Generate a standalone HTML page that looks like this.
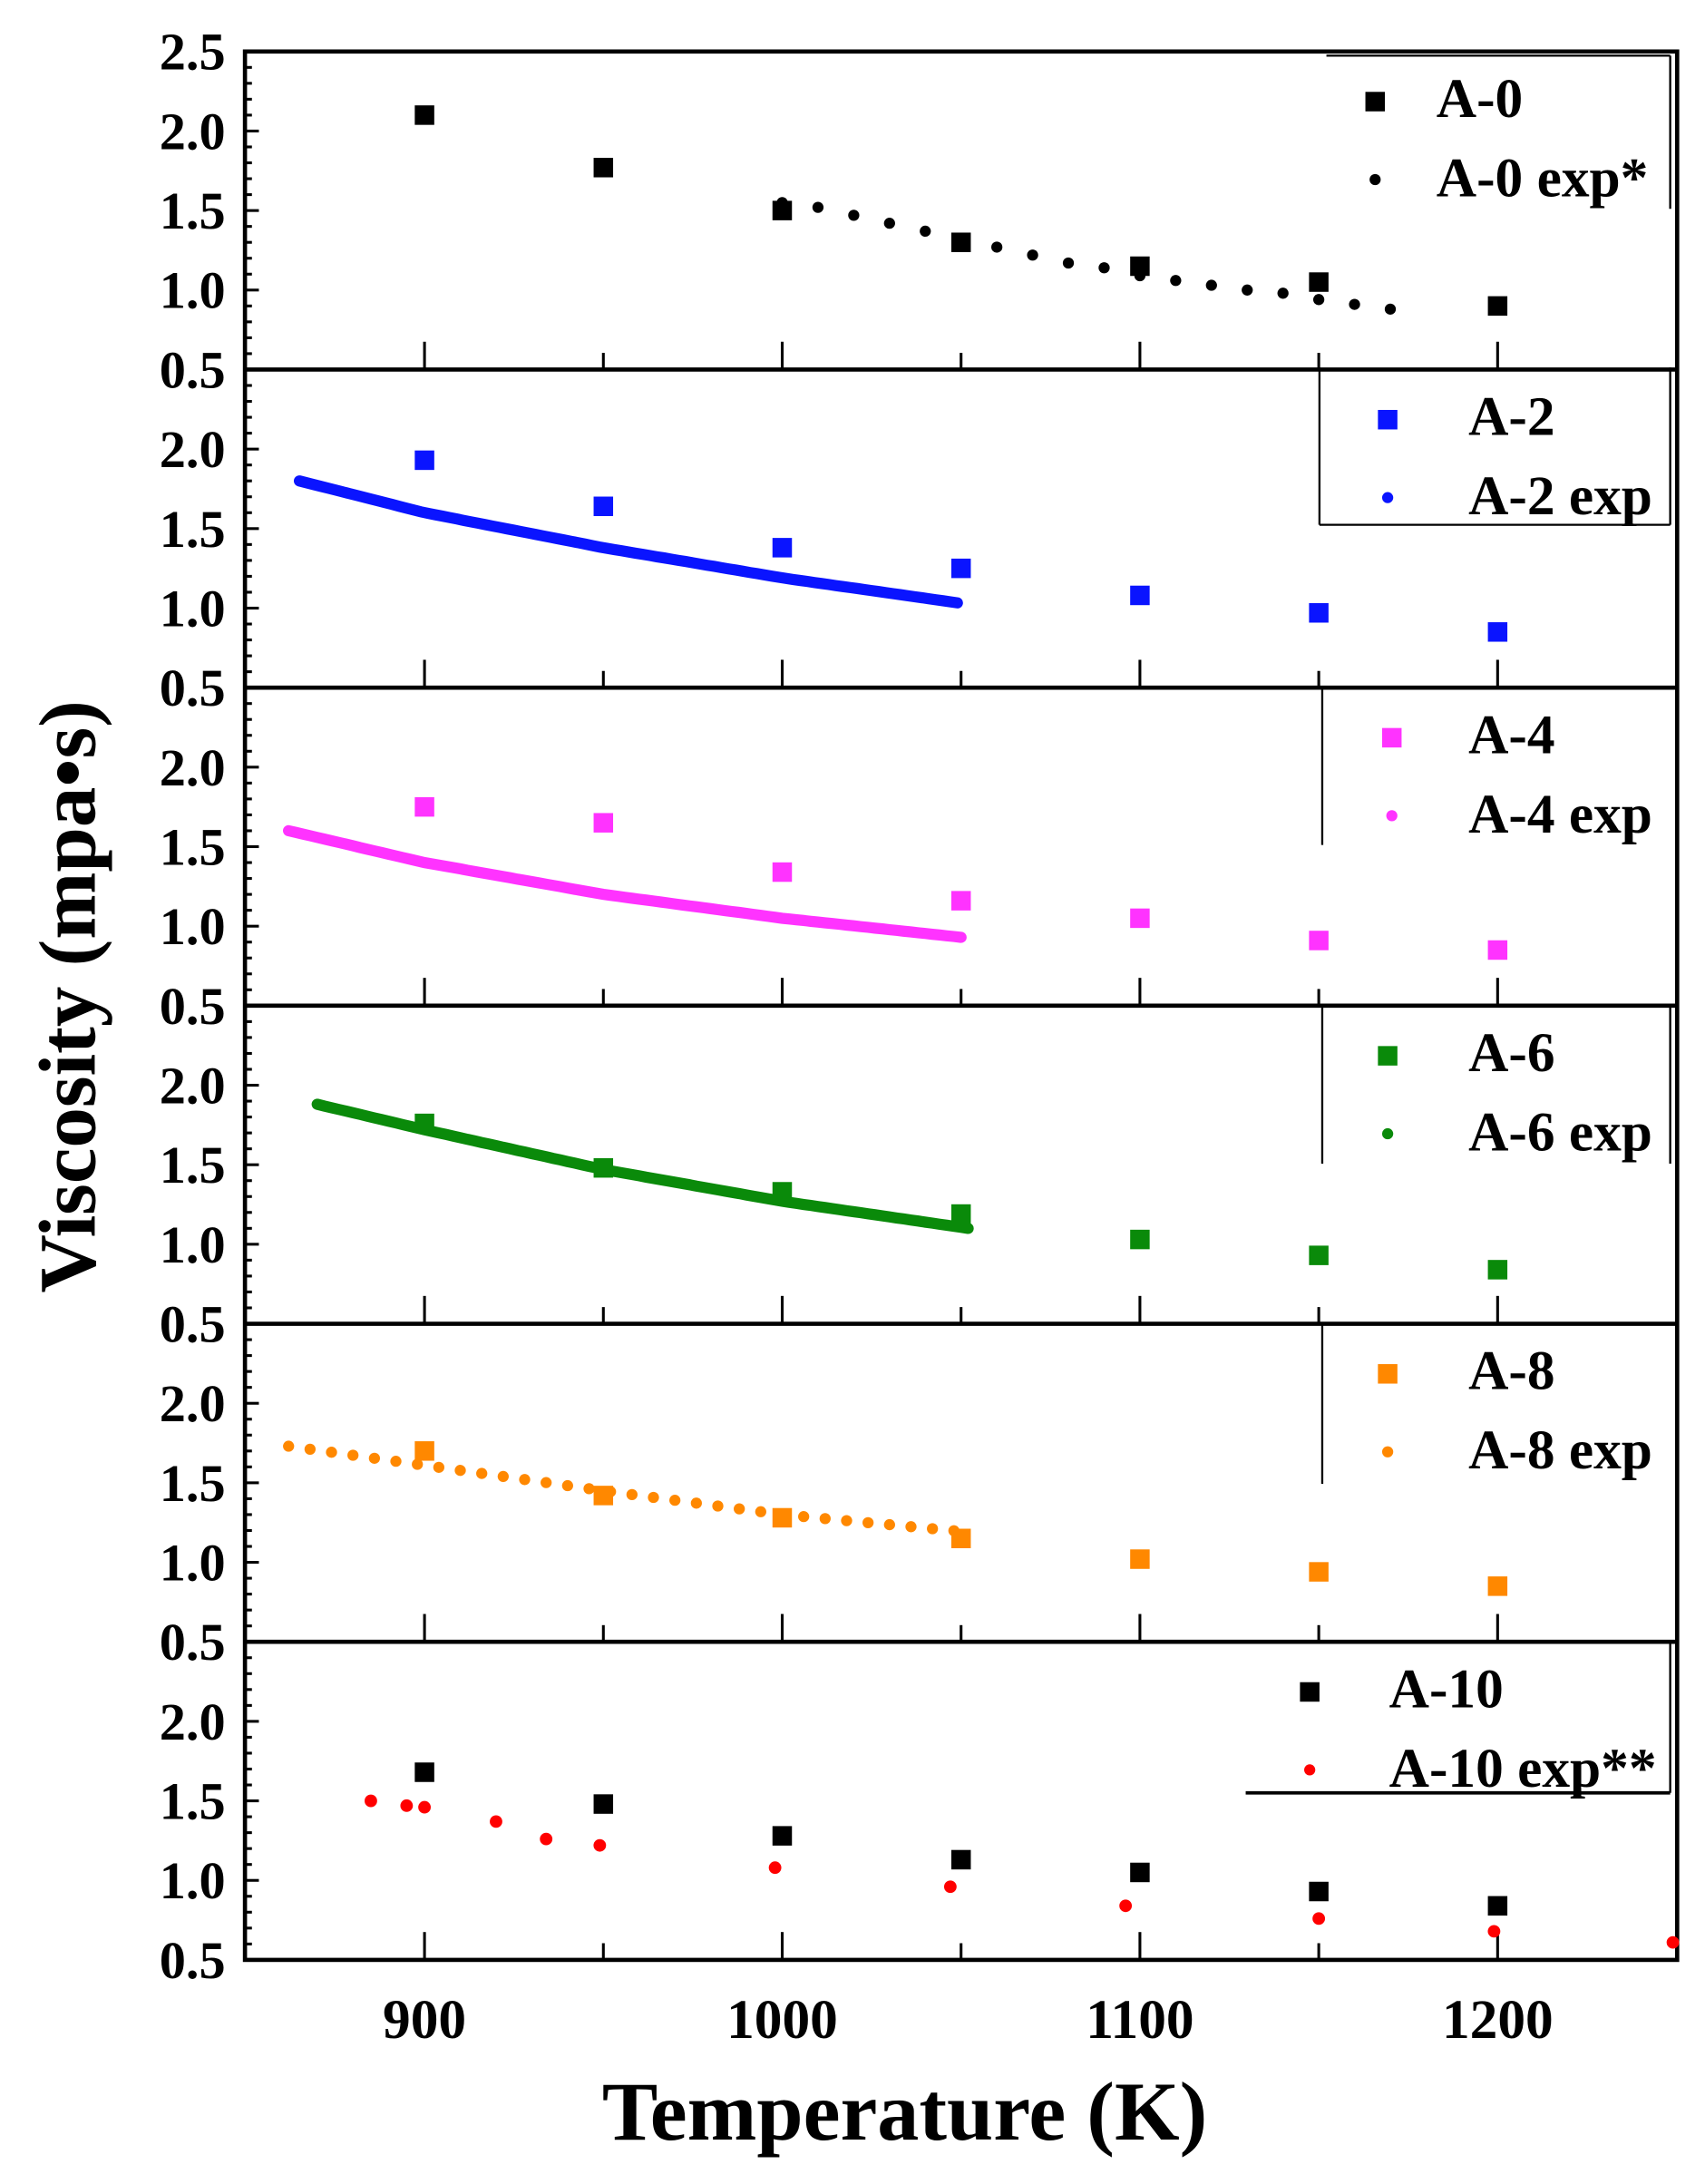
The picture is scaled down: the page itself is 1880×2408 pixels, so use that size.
<!DOCTYPE html>
<html><head><meta charset="utf-8"><style>
html,body{margin:0;padding:0;background:#fff;}
svg{display:block;}
text{font-family:"Liberation Serif",serif;font-weight:bold;}
</style></head><body>
<svg id="s" width="1880" height="2408" viewBox="0 0 1225 1569" preserveAspectRatio="none" xmlns="http://www.w3.org/2000/svg"></svg>
<script>
const s=document.getElementById('s');
let h='';
const L=176,R=1205,T0=37,PH=228.5;
const X=t=>305+(t-900)*2.57;
const Y=(i,v)=>T0+PH*i+(2.5-v)/2*PH;
h+=`<rect x="${L}" y="${T0}" width="${R-L}" height="${PH*6}" fill="none" stroke="#000" stroke-width="3"/>`;
for(let i=1;i<6;i++)h+=`<line x1="${L}" x2="${R}" y1="${T0+PH*i}" y2="${T0+PH*i}" stroke="#000" stroke-width="3"/>`;
for(let i=0;i<6;i++){
  const b=T0+PH*(i+1);
  for(let t=900;t<=1200;t+=50){h+=`<line x1="${X(t)}" x2="${X(t)}" y1="${b}" y2="${b-(t%100==0?20:12)}" stroke="#000" stroke-width="2"/>`;}
  for(let k=0;k<=20;k++){const v=0.5+k*0.1;const y=Y(i,v);const maj=k%5==0;h+=`<line x1="${L}" x2="${L+(maj?10:5)}" y1="${y}" y2="${y}" stroke="#000" stroke-width="2"/>`;}
  const labs=i==0?['2.5','2.0','1.5','1.0','0.5']:['2.0','1.5','1.0','0.5'];
  labs.forEach(l=>{h+=`<text x="162" y="${Y(i,+l)+13}" font-size="38" text-anchor="end">${l}</text>`;});
}
[900,1000,1100,1200].forEach(t=>{h+=`<text x="${X(t)}" y="1464" font-size="40" text-anchor="middle">${t}</text>`;});
h+=`<text x="650" y="1537" font-size="60" text-anchor="middle">Temperature (K)</text>`;
h+=`<text transform="translate(68,716) rotate(-90)" font-size="58" text-anchor="middle">Viscosity (mpa•s)</text>`;
const sqV=[[2.1,1.77,1.5,1.3,1.15,1.05,0.9],[1.93,1.64,1.38,1.25,1.08,0.97,0.85],[1.75,1.65,1.34,1.16,1.05,0.91,0.85],[1.76,1.48,1.33,1.19,1.03,0.93,0.84],[1.7,1.42,1.28,1.15,1.02,0.94,0.85],[1.68,1.48,1.28,1.13,1.05,0.93,0.84]];
const cols=['#000','#0a14ff','#ff33ff','#0a8a0a','#ff8800','#000'];
const sq=(x,y,c)=>`<rect x="${x-7}" y="${y-7}" width="14" height="14" fill="${c}"/>`;
const dot=(x,y,c,r)=>`<circle cx="${x}" cy="${y}" r="${r}" fill="${c}"/>`;
function interp(pts,t){for(let k=0;k<pts.length-1;k++){if(t<=pts[k+1][0]){const f=(t-pts[k][0])/(pts[k+1][0]-pts[k][0]);return pts[k][1]+f*(pts[k+1][1]-pts[k][1]);}}return pts[pts.length-1][1];}
const curves={1:[[865,1.8],[900,1.6],[950,1.38],[1000,1.19],[1050,1.03]],2:[[862,1.6],[900,1.4],[950,1.2],[1000,1.05],[1050,0.93]],3:[[870,1.88],[900,1.72],[950,1.47],[1000,1.27],[1052,1.1]]};
for(const i in curves){const p=curves[i];let d='';for(let t=p[0][0];t<=p[p.length-1][0];t+=2){d+=(d?'L':'M')+X(t).toFixed(1)+' '+Y(+i,interp(p,t)).toFixed(1);}h+=`<path d="${d}" fill="none" stroke="${cols[i]}" stroke-width="8" stroke-linecap="round"/>`;}
{const p=[[862,1.73],[900,1.61],[950,1.45],[1000,1.3],[1052,1.19]];for(let t=862;t<=1052;t+=6)h+=dot(X(t),Y(4,interp(p,t)),cols[4],4);}
[[1000,1.55],[1010,1.52],[1020,1.47],[1030,1.42],[1040,1.37],[1050,1.32],[1060,1.27],[1070,1.22],[1080,1.17],[1090,1.14],[1100,1.09],[1110,1.06],[1120,1.03],[1130,1.0],[1140,0.98],[1150,0.94],[1160,0.91],[1170,0.88]].forEach(p=>h+=dot(X(p[0]),Y(0,p[1]),'#000',4));
sqV.forEach((a,i)=>a.forEach((v,k)=>h+=sq(X(900+50*k),Y(i,v),cols[i])));
[[885,1.5],[895,1.47],[900,1.46],[920,1.37],[934,1.26],[949,1.22],[998,1.08],[1047,0.96],[1096,0.84],[1150,0.76],[1199,0.68],[1249,0.61]].forEach(p=>h+=dot(X(p[0]),Y(5,p[1]),'#f00',4.5));
const lg=[[988,1032,'A-0','A-0 exp*'],[997,1055,'A-2','A-2 exp'],[1000,1055,'A-4','A-4 exp'],[997,1055,'A-6','A-6 exp'],[997,1055,'A-8','A-8 exp'],[941,998,'A-10','A-10 exp**']];
lg.forEach((g,i)=>{const t=T0+PH*i;h+=sq(g[0],t+36,cols[i==5?0:i]);h+=dot(g[0],t+92,i==5?'#f00':cols[i],4);h+=`<text x="${g[1]}" y="${t+47}" font-size="40">${g[2]}</text><text x="${g[1]}" y="${t+104}" font-size="40">${g[3]}</text>`;});
const ln=(a,b,c,d,w)=>h+=`<line x1="${a}" y1="${b}" x2="${c}" y2="${d}" stroke="#000" stroke-width="${w||1.5}"/>`;
ln(953,40,1200,40);ln(1200,40,1200,150);
ln(948,264,948,377);ln(948,377,1200,377);ln(1200,264,1200,377);
ln(950,493,950,607);
ln(950,722,950,836);ln(1200,722,1200,836);
ln(950,950,950,1066);
ln(895,1288,1200,1288,2.5);ln(1200,1179,1200,1288);
s.innerHTML=h;
</script>
</body></html>
